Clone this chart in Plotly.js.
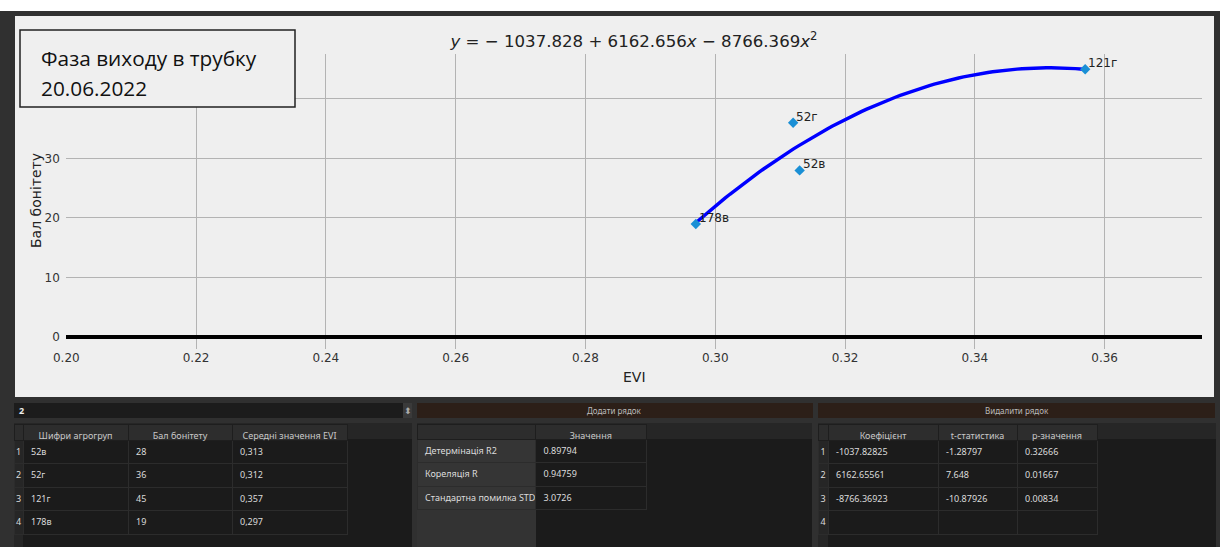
<!DOCTYPE html>
<html><head><meta charset="utf-8">
<script src="https://cdn.plot.ly/plotly-3.0.1.min.js"></script>
<style>html,body{margin:0;padding:0;background:#fff;}#chart{width:1220px;height:547px;}</style>
</head><body><div id="chart"></div>
<script>
// ---- data ----
const groups = ['52в', '52г', '121г', '178в'];
const scores = [28, 36, 45, 19];
const evi = [0.313, 0.312, 0.357, 0.297];
const coefs = [-1037.82825, 6162.65561, -8766.36923];
const tStats = [-1.28797, 7.648, -10.87926];
const pValues = [0.32666, 0.01667, 0.00834];
const statLabels = ['Детермінація R2', 'Кореляція R', 'Стандартна помилка STD'];
const statValues = ['0.89794', '0.94759', '3.0726'];
const xTicks = [0.20, 0.22, 0.24, 0.26, 0.28, 0.30, 0.32, 0.34, 0.36];
const yTicks = [0, 10, 20, 30, 40];
const table1Headers = ['Шифри агрогруп', 'Бал бонітету', 'Середні значення EVI'];
const table2Header = 'Значення';
const table3Headers = ['Коефіцієнт', 't-статистика', 'р-значення'];
const spinValue = '2';
const addLabel = 'Додати рядок';
const delLabel = 'Видалити рядок';
const boxLines = ['Фаза виходу в трубку', '20.06.2022'];
const xTitle = 'EVI';
const yTitle = 'Бал бонітету';

// ---- helpers (pixel -> paper) ----
const W = 1220, H = 547;
const fx = p => p / W;
const fy = p => 1 - p / H;
const nb = s => String(s).replace(/ /g, '\u00a0');
const rect = (x0, y0, x1, y1, fill, line) => ({
  type: 'rect', xref: 'paper', yref: 'paper', layer: 'below',
  x0: fx(x0), x1: fx(x1), y0: fy(y1), y1: fy(y0),
  fillcolor: fill, line: line || {width: 0}
});

// fitted curve from the regression coefficients
const xMin = Math.min(...evi), xMax = Math.max(...evi);
const cx = [], cy = [];
for (let i = 0; i <= 80; i++) {
  const x = xMin + (xMax - xMin) * i / 80;
  cx.push(x);
  cy.push(coefs[0] + coefs[1] * x + coefs[2] * x * x);
}
const fmt = (v) => Math.abs(v).toFixed(3);
const titleText = '<i>y</i> = − ' + fmt(coefs[0]) + ' + ' + fmt(coefs[1]) + '<i>x</i> − ' + fmt(coefs[2]) + '<i>x</i><sup>2</sup>';

const tFont = {family: 'Noto Sans, Open Sans, sans-serif', size: 9, color: '#dcdcdc'};
const hFont = {family: 'Noto Sans, Open Sans, sans-serif', size: 9, color: '#c8c8c8'};
const idx4 = ['1', '2', '3', '4'];

const traces = [
  {
    type: 'scatter', mode: 'lines', x: cx, y: cy,
    line: {color: '#0000ff', width: 3.4}, hoverinfo: 'skip', showlegend: false
  },
  {
    type: 'scatter', mode: 'markers', x: evi, y: scores,
    marker: {symbol: 'diamond', size: 8, color: '#1a8fd5'},
    showlegend: false
  },
  {
    type: 'table',
    domain: {x: [fx(14), fx(347)], y: [fy(547), fy(424)]},
    columnwidth: [9, 105, 104, 115],
    header: {
      values: [' '].concat(table1Headers.map(nb)), height: 15,
      fill: {color: '#2d2d2d'}, line: {color: '#1e1e1e', width: 1},
      font: hFont, align: 'center'
    },
    cells: {
      values: [idx4, groups, scores.map(String), evi.map(v => v.toFixed(3).replace('.', ','))],
      height: 23.5,
      fill: {color: ['#262626', '#1b1b1b', '#1b1b1b', '#1b1b1b']},
      line: {color: '#2c2c2c', width: 1},
      font: tFont, align: ['center', 'left', 'left', 'left']
    }
  },
  {
    type: 'table',
    domain: {x: [fx(417), fx(647)], y: [fy(547), fy(424)]},
    columnwidth: [119, 111],
    header: {
      values: [' ', table2Header], height: 15,
      fill: {color: '#2d2d2d'}, line: {color: '#1e1e1e', width: 1},
      font: hFont, align: 'center'
    },
    cells: {
      values: [statLabels.map(nb), statValues], height: 23.5,
      fill: {color: ['#353535', '#1b1b1b']},
      line: {color: '#2c2c2c', width: 1},
      font: tFont, align: 'left'
    }
  },
  {
    type: 'table',
    domain: {x: [fx(818), fx(1097)], y: [fy(547), fy(424)]},
    columnwidth: [10, 110, 79, 80],
    header: {
      values: [' '].concat(table3Headers.map(nb)), height: 15,
      fill: {color: '#2d2d2d'}, line: {color: '#1e1e1e', width: 1},
      font: hFont, align: 'center'
    },
    cells: {
      values: [idx4, coefs.map(String).concat(['']), tStats.map(String).concat(['']), pValues.map(String).concat([''])],
      height: 23.5,
      fill: {color: ['#262626', '#1b1b1b', '#1b1b1b', '#1b1b1b']},
      line: {color: '#2c2c2c', width: 1},
      font: tFont, align: ['center', 'left', 'left', 'left']
    }
  }
];

const shapes = [
  rect(0, 11, 1220, 547, '#303030'),
  rect(15, 16, 1214, 397, '#efefef'),
  // spinbox & buttons
  rect(14, 403, 403, 418, '#1c1c1c'),
  rect(403, 403, 412, 418, '#3a3a3a'),
  rect(417, 403, 813, 418, '#2c1f18'),
  rect(818, 403, 1215, 418, '#2c1f18'),
  // table areas
  rect(14, 423, 412, 547, '#1b1b1b'),
  rect(14, 423, 412, 439, '#262626'),
  rect(14, 439, 23, 547, '#262626'),
  rect(417, 423, 812, 547, '#1b1b1b'),
  rect(417, 423, 812, 439, '#262626'),
  rect(417, 439, 536, 547, '#333333'),
  rect(818, 423, 1216, 547, '#1b1b1b'),
  rect(818, 423, 1216, 439, '#262626'),
  rect(818, 439, 828, 547, '#262626'),
  // caption box
  {type: 'rect', xref: 'paper', yref: 'paper', layer: 'above',
   x0: fx(20), x1: fx(295), y0: fy(107), y1: fy(30),
   fillcolor: '#efefef', line: {color: '#222', width: 1.5}}
];

const pointLabels = groups.map((g, i) => ({
  xref: 'x', yref: 'y', x: evi[i], y: scores[i], text: g, showarrow: false,
  xanchor: 'left', yanchor: 'middle', xshift: 1, yshift: 6,
  font: {family: 'DejaVu Sans', size: 12, color: '#222'}
}));

const annotations = pointLabels.concat([
  {xref: 'paper', yref: 'paper', x: fx(634), y: fy(377), xanchor: 'center', yanchor: 'middle',
   text: xTitle, showarrow: false, font: {family: 'DejaVu Sans', size: 14, color: '#222'}},
  {xref: 'paper', yref: 'paper', x: fx(36), y: fy(201), xanchor: 'center', yanchor: 'middle', textangle: -90,
   text: yTitle, showarrow: false, font: {family: 'DejaVu Sans', size: 14, color: '#222'}},
  {xref: 'paper', yref: 'paper', x: fx(39), y: fy(58), xanchor: 'left', yanchor: 'middle',
   text: boxLines[0], showarrow: false, font: {family: 'Open Sans', size: 20.8, color: '#111'}},
  {xref: 'paper', yref: 'paper', x: fx(39), y: fy(88), xanchor: 'left', yanchor: 'middle',
   text: boxLines[1], showarrow: false, font: {family: 'Open Sans', size: 20.8, color: '#111'}},
  {xref: 'paper', yref: 'paper', x: fx(17), y: fy(410.5), xanchor: 'left', yanchor: 'middle',
   text: '<b>' + spinValue + '</b>', showarrow: false, font: {family: 'Noto Sans', size: 9, color: '#eee'}},
  {xref: 'paper', yref: 'paper', x: fx(407.5), y: fy(410.5), xanchor: 'center', yanchor: 'middle',
   text: '⬍', showarrow: false, font: {family: 'DejaVu Sans', size: 9, color: '#aaa'}},
  {xref: 'paper', yref: 'paper', x: fx(615), y: fy(410.5), xanchor: 'center', yanchor: 'middle',
   text: addLabel, showarrow: false, font: {family: 'Noto Sans', size: 8, color: '#bbb'}},
  {xref: 'paper', yref: 'paper', x: fx(1017), y: fy(410.5), xanchor: 'center', yanchor: 'middle',
   text: delLabel, showarrow: false, font: {family: 'Noto Sans', size: 8, color: '#bbb'}}
]);

const layout = {
  width: W, height: H,
  margin: {l: 0, r: 0, t: 0, b: 0},
  paper_bgcolor: '#ffffff',
  plot_bgcolor: 'rgba(0,0,0,0)',
  showlegend: false,
  title: {
    text: titleText, xref: 'paper', yref: 'paper',
    x: fx(634), xanchor: 'center', y: fy(41), yanchor: 'middle',
    font: {family: 'DejaVu Sans', size: 16.6, color: '#222'}
  },
  xaxis: {
    domain: [fx(66.3), fx(1202)], range: [0.2, 0.375],
    tickvals: xTicks, ticktext: xTicks.map(v => v.toFixed(2)),
    showgrid: true, gridcolor: '#b3b3b3', gridwidth: 1,
    zeroline: false, showline: false, ticks: '',
    tickfont: {family: 'DejaVu Sans', size: 12, color: '#333'},
    fixedrange: true
  },
  yaxis: {
    domain: [fy(349), fy(54)], range: [-2.02, 47.56],
    tickvals: yTicks, ticktext: yTicks.map(v => v === 40 ? '' : String(v)),
    showgrid: true, gridcolor: '#b3b3b3', gridwidth: 1,
    zeroline: true, zerolinecolor: '#000000', zerolinewidth: 4,
    showline: false, ticks: 'outside', ticklen: 3, tickcolor: 'rgba(0,0,0,0)',
    tickfont: {family: 'DejaVu Sans', size: 12, color: '#333'},
    fixedrange: true
  },
  shapes: shapes,
  annotations: annotations
};

Plotly.newPlot('chart', traces, layout, {displayModeBar: false, staticPlot: true});
</script>
</body></html>
